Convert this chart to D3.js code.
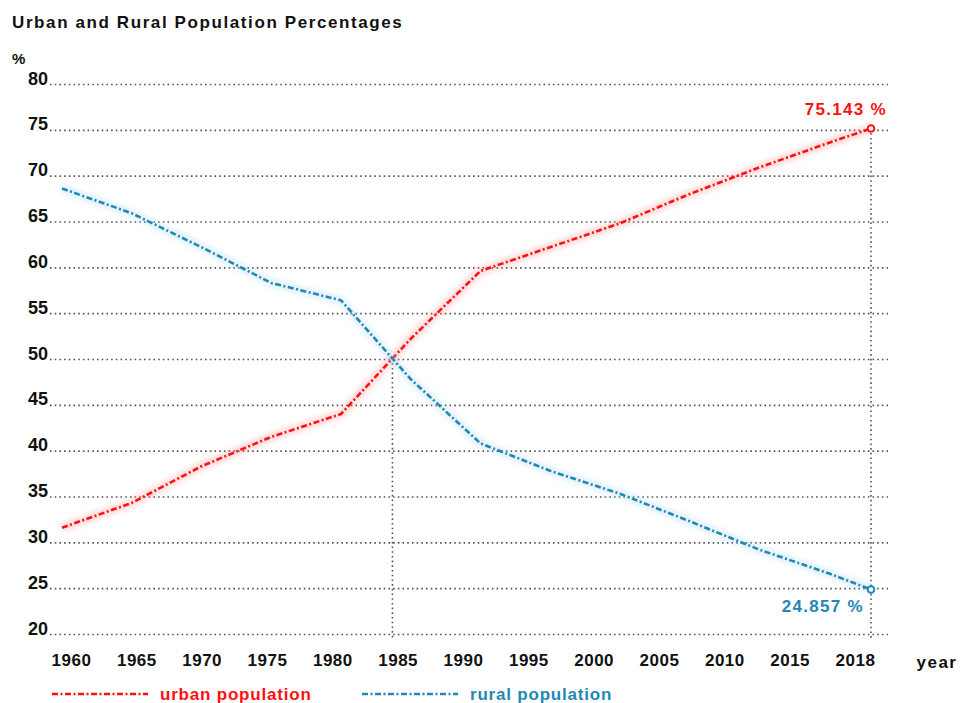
<!DOCTYPE html>
<html>
<head>
<meta charset="utf-8">
<script src="https://cdn.jsdelivr.net/npm/d3@7"></script>
<style>
  html, body { margin: 0; padding: 0; background: #fff; }
  svg text { font-family: "Liberation Sans", Arial, sans-serif; }
</style>
</head>
<body>
<div id="chart"></div>
<script>
(function(undefined) {
  'use strict';

  var
    years = [1960, 1965, 1970, 1975, 1980, 1985, 1990, 1995, 2000, 2005, 2010, 2015, 2018],
    urbanValues = [31.6, 34.3, 38.3, 41.5, 44.0, 52.2, 59.6, 62.2, 64.8, 68.0, 70.9, 73.6, 75.143],
    ruralValues = [68.6, 65.9, 62.2, 58.3, 56.4, 47.8, 40.8, 37.8, 35.3, 32.3, 29.2, 26.6, 24.857],
    yTicks = [20, 25, 30, 35, 40, 45, 50, 55, 60, 65, 70, 75, 80],
    xTickLabels = ['1960', '1965', '1970', '1975', '1980', '1985', '1990', '1995', '2000', '2005', '2010', '2015', '2018'],
    seriesNames = ['urban population', 'rural population'];

  var
    WIDTH = 963,
    HEIGHT = 703,
    GRID_LEFT = 50,
    GRID_RIGHT = 888,
    RED = '#ff1111',
    BLUE = '#1f88b6';

  var
    svg = d3.select('#chart')
      .append('svg')
      .attr('width', WIDTH)
      .attr('height', HEIGHT),

    x = d3.scaleLinear().domain([1960, 2018]).range([62, 871]),
    y = d3.scaleLinear().domain([20, 80]).range([634, 84]),
    xLabels = d3.scalePoint().domain(xTickLabels).range([71, 855]);

  var defs = svg.append('defs');
  defs.append('filter')
    .attr('id', 'glow')
    .attr('x', '-10%').attr('y', '-10%')
    .attr('width', '120%').attr('height', '120%')
    .append('feGaussianBlur')
    .attr('stdDeviation', 2.5);

  // title
  svg.append('text')
    .attr('x', 12)
    .attr('y', 28)
    .attr('font-size', 17)
    .attr('font-weight', 'bold')
    .attr('letter-spacing', 1.6)
    .attr('fill', '#111')
    .text('Urban and Rural Population Percentages');

  svg.append('text')
    .attr('x', 12)
    .attr('y', 64)
    .attr('font-size', 15)
    .attr('font-weight', 'bold')
    .attr('fill', '#111')
    .text('%');

  // y axis with dotted grid
  var yAxis = svg.append('g')
    .attr('transform', 'translate(' + GRID_LEFT + ',0)')
    .call(
      d3.axisLeft(y)
        .tickValues(yTicks)
        .tickSize(-(GRID_RIGHT - GRID_LEFT))
        .tickPadding(2)
    );

  yAxis.select('.domain').remove();
  yAxis.selectAll('.tick line')
    .attr('stroke', '#555')
    .attr('stroke-width', 1.6)
    .attr('stroke-dasharray', '1.6,3.1');
  yAxis.selectAll('.tick text')
    .attr('font-size', 18)
    .attr('font-weight', 'bold')
    .attr('fill', '#111')
    .attr('dy', '0')
    .style('font-family', '"Liberation Sans", Arial, sans-serif');

  // x axis labels
  var xAxis = svg.append('g')
    .attr('transform', 'translate(0,651)')
    .call(d3.axisBottom(xLabels).tickSize(0).tickPadding(3));

  xAxis.select('.domain').remove();
  xAxis.selectAll('.tick text')
    .attr('font-size', 17)
    .attr('font-weight', 'bold')
    .attr('letter-spacing', 0.5)
    .attr('fill', '#111')
    .style('font-family', '"Liberation Sans", Arial, sans-serif');

  svg.append('text')
    .attr('x', 937)
    .attr('y', 668)
    .attr('text-anchor', 'middle')
    .attr('font-size', 17)
    .attr('font-weight', 'bold')
    .attr('letter-spacing', 1.5)
    .attr('fill', '#111')
    .text('year');

  // crossing point of the two series
  var crossYear, crossValue;
  (function() {
    var i, d0, d1, t;
    for (i = 0; i < years.length - 1; i++) {
      d0 = urbanValues[i] - ruralValues[i];
      d1 = urbanValues[i + 1] - ruralValues[i + 1];
      if (d0 < 0 && d1 >= 0) {
        t = -d0 / (d1 - d0);
        crossYear = years[i] + t * (years[i + 1] - years[i]);
        crossValue = urbanValues[i] + t * (urbanValues[i + 1] - urbanValues[i]);
        return;
      }
    }
  })();

  var lastYear = years[years.length - 1],
      lastUrban = urbanValues[urbanValues.length - 1],
      lastRural = ruralValues[ruralValues.length - 1];

  svg.append('line')
    .attr('x1', x(crossYear)).attr('x2', x(crossYear))
    .attr('y1', y(crossValue)).attr('y2', y(20) + 4)
    .attr('stroke', '#555')
    .attr('stroke-width', 1.6)
    .attr('stroke-dasharray', '1.6,3.1');

  svg.append('line')
    .attr('x1', x(lastYear)).attr('x2', x(lastYear))
    .attr('y1', y(lastUrban)).attr('y2', y(20) + 4)
    .attr('stroke', '#555')
    .attr('stroke-width', 1.6)
    .attr('stroke-dasharray', '1.6,3.1');

  // lines
  var line = d3.line()
    .x(function(d) { return x(d[0]); })
    .y(function(d) { return y(d[1]); })
    .curve(d3.curveLinear);

  var series = [
    {name: seriesNames[0], color: RED, halo: '#ff8a8a', values: d3.zip(years, urbanValues)},
    {name: seriesNames[1], color: BLUE, halo: '#9fd3ea', values: d3.zip(years, ruralValues)}
  ];

  series.forEach(function(s) {
    svg.append('path')
      .attr('d', line(s.values))
      .attr('fill', 'none')
      .attr('stroke', s.halo)
      .attr('stroke-opacity', 0.3)
      .attr('stroke-width', 9)
      .attr('stroke-linejoin', 'round')
      .attr('filter', 'url(#glow)');

    svg.append('path')
      .attr('d', line(s.values))
      .attr('fill', 'none')
      .attr('stroke', s.color)
      .attr('stroke-width', 2.6)
      .attr('stroke-linejoin', 'round')
      .attr('stroke-dasharray', '6,2.5,2,2.5');
  });

  // end markers
  svg.append('circle')
    .attr('cx', x(lastYear)).attr('cy', y(lastUrban))
    .attr('r', 3.3)
    .attr('fill', '#fff')
    .attr('stroke', RED)
    .attr('stroke-width', 2);

  svg.append('circle')
    .attr('cx', x(lastYear)).attr('cy', y(lastRural))
    .attr('r', 3.3)
    .attr('fill', '#fff')
    .attr('stroke', BLUE)
    .attr('stroke-width', 2);

  svg.append('text')
    .attr('x', x(lastYear) + 16)
    .attr('y', y(lastUrban) - 14)
    .attr('text-anchor', 'end')
    .attr('font-size', 17)
    .attr('font-weight', 'bold')
    .attr('letter-spacing', 1.3)
    .attr('fill', RED)
    .text(d3.format('.3f')(lastUrban) + ' %');

  svg.append('text')
    .attr('x', x(lastYear) - 7)
    .attr('y', y(lastRural) + 23)
    .attr('text-anchor', 'end')
    .attr('font-size', 17)
    .attr('font-weight', 'bold')
    .attr('letter-spacing', 1.3)
    .attr('fill', BLUE)
    .text(d3.format('.3f')(lastRural) + ' %');

  // legend
  var legendX = [52, 362];
  series.forEach(function(s, i) {
    var g = svg.append('g')
      .attr('transform', 'translate(' + legendX[i] + ',694)');

    g.append('line')
      .attr('x1', 0).attr('x2', 96)
      .attr('y1', 0).attr('y2', 0)
      .attr('stroke', s.halo)
      .attr('stroke-opacity', 0.3)
      .attr('stroke-width', 8)
      .attr('filter', 'url(#glow)');

    g.append('line')
      .attr('x1', 0).attr('x2', 96)
      .attr('y1', 0).attr('y2', 0)
      .attr('stroke', s.color)
      .attr('stroke-width', 2.6)
      .attr('stroke-dasharray', '6,2.5,2,2.5');

    g.append('text')
      .attr('x', 108)
      .attr('y', 6)
      .attr('font-size', 17)
      .attr('font-weight', 'bold')
      .attr('letter-spacing', 0.8)
      .attr('fill', s.color)
      .text(s.name);
  });
})();
</script>
</body>
</html>
